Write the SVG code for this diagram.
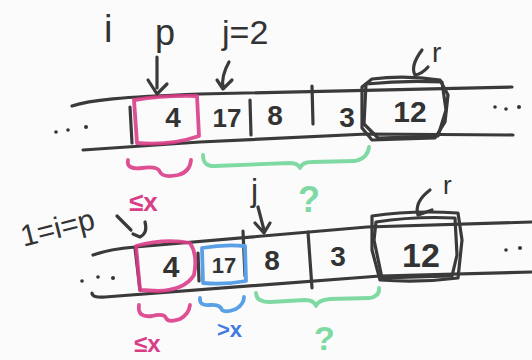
<svg xmlns="http://www.w3.org/2000/svg" width="532" height="360" viewBox="0 0 532 360">
<style>
.ink{fill:none;stroke:#3a3a3a;stroke-width:3.2;stroke-linecap:round;stroke-linejoin:round}
.pink{fill:none;stroke:#d93d88;stroke-width:3.8;stroke-linecap:round;stroke-linejoin:round;opacity:.9}
.green{fill:none;stroke:#7fd9a3;stroke-width:3.8;stroke-linecap:round;stroke-linejoin:round}
.blue{fill:none;stroke:#5aa0e6;stroke-width:3.8;stroke-linecap:round;stroke-linejoin:round}
text{font-family:"Liberation Sans","DejaVu Sans",sans-serif}
.t{fill:#333}
.d{fill:#333;font-weight:bold;text-anchor:middle}
.tp{fill:#d93d88}
.tg{fill:#7fd9a3}
.tb{fill:#3f7be0}
</style>
<rect width="532" height="360" fill="#fbfbfb"/>

<!-- ===== Row 1 ===== -->
<g id="row1-array">
  <path class="ink" d="M72,106 C90,100 120,97 200,94 L512,87"/>
  <path class="ink" d="M83,150 L200,142 L367,134 L513,135"/>
  <path class="ink" d="M130,107 L132,143"/>
  <path class="ink" d="M250,100 L251,135"/>
  <path class="ink" d="M312,86 L313,124"/>
  <g class="t"><circle cx="56" cy="132" r="1.8"/><circle cx="68" cy="130" r="1.8"/><circle cx="86" cy="127" r="2"/></g>
  <g class="t"><circle cx="495" cy="107" r="1.8"/><circle cx="506" cy="109" r="1.8"/><circle cx="519" cy="107" r="2"/></g>
</g>
<g id="row1-cell-4">
  <path class="pink" d="M134,100 Q165,95 197,96 L199,136 Q170,146 137,143 Z"/>
  <text class="d" x="173" y="127" font-size="28">4</text>
</g>
<g id="row1-cell-17"><text class="d" x="227" y="127" font-size="26">17</text></g>
<g id="row1-cell-8"><text class="d" x="275" y="125" font-size="28">8</text></g>
<g id="row1-cell-3"><text class="d" x="347" y="127" font-size="28">3</text></g>
<g id="row1-cell-12">
  <path class="ink" d="M362,87 L372,79 Q405,75 440,80 L448,95 L445,122 L435,138 L372,140 L362,128 Z"/>
  <path class="ink" d="M366,84 Q405,80 442,82 L446,110 L438,136 L378,138 L364,124 Z" stroke-width="2.4"/>
  <text class="d" x="410" y="122" font-size="30">12</text>
</g>
<g id="row1-labels">
  <text class="t" x="104" y="42" font-size="38">i</text>
  <text class="t" x="155" y="45" font-size="36">p</text>
  <text class="t" x="222" y="44" font-size="34">j=2</text>
  <text class="t" x="432" y="62" font-size="28">r</text>
</g>
<g id="connectors">
  <path class="ink" d="M157,57 L157,88 M148,80 L157,94 L167,84"/>
  <path class="ink" d="M229,62 Q221,76 223,88 M217,80 L223,89 L232,80"/>
  <path class="ink" d="M422,50 Q410,66 415,75 M415,75 Q422,74 428,67"/>
  <path class="ink" d="M117,216 L131,230 M145,222 Q148,233 140,237 L133,234"/>
  <path class="ink" d="M258,207 L264,230 M255,223 L264,233 L270,223"/>
  <path class="ink" d="M430,190 Q414,202 418,215 M418,215 L432,210"/>
</g>
<g id="row1-braces">
  <path class="pink" d="M128,160 Q126,170 142,168 Q158,166 160,172 Q163,178 178,175 Q190,172 191,160"/>
  <path class="green" d="M203,155 Q203,167 215,166 L290,163 Q298,163 300,168 Q302,162 312,162 L355,161 Q368,158 369,147"/>
  <text class="tp" x="129" y="211" font-size="26" font-weight="bold">≤x</text>
  <text class="tg" x="298" y="212" font-size="36" font-weight="bold">?</text>
</g>

<!-- ===== Row 2 ===== -->
<g id="row2-array">
  <path class="ink" d="M93,255 Q110,249 135,247 L367,227 L532,222"/>
  <path class="ink" d="M92,293 Q92,298 105,297 L380,276 L532,272"/>
  <path class="ink" d="M135,248 L140,290"/>
  <path class="ink" d="M198,253 L199,281"/>
  <path class="ink" d="M243,231 L245,276"/>
  <path class="ink" d="M308,232 L312,288"/>
  <g class="t"><circle cx="82" cy="281" r="1.8"/><circle cx="98" cy="277" r="1.8"/><circle cx="113" cy="278" r="2"/></g>
  <g class="t"><circle cx="506" cy="250" r="1.8"/><circle cx="520" cy="248" r="2"/></g>
</g>
<g id="row2-cell-4">
  <path class="pink" d="M136,246 Q165,238 190,243 Q198,255 194,275 Q185,290 158,291 L140,290 Z"/>
  <text class="d" x="171" y="277" font-size="30">4</text>
</g>
<g id="row2-cell-17">
  <path class="blue" d="M202,248 Q224,244 245,246 L246,281 Q224,285 203,283 Z"/>
  <text class="d" x="224" y="273" font-size="22">17</text>
</g>
<g id="row2-cell-8"><text class="d" x="272" y="270" font-size="28">8</text></g>
<g id="row2-cell-3"><text class="d" x="338" y="266" font-size="28">3</text></g>
<g id="row2-cell-12">
  <path class="ink" d="M372,216 Q412,210 458,213 L462,240 L458,278 Q420,283 380,280 L372,250 Z"/>
  <path class="ink" d="M376,222 Q415,216 455,218 L457,255 L452,276 L382,278 L374,240 Z" stroke-width="2.4"/>
  <text class="d" x="421" y="267" font-size="34">12</text>
</g>
<g id="row2-labels">
  <text class="t" x="57" y="238" font-size="30" text-anchor="middle" transform="rotate(-14 57 226)">1=i=p</text>
  <text class="t" x="251" y="201" font-size="32">j</text>
  <text class="t" x="443" y="194" font-size="26">r</text>
</g>
<g id="row2-braces">
  <path class="pink" d="M139,305 Q137,318 152,316 Q164,313 166,318 Q168,323 180,319 Q189,314 190,305"/>
  <path class="blue" d="M200,298 Q199,306 210,305 Q220,304 222,310 Q226,313 236,309 Q244,304 244,297"/>
  <path class="green" d="M256,293 Q256,302 270,302 L305,300 Q314,300 316,306 Q318,300 330,299 L370,298 Q380,296 379,288"/>
  <text class="tb" x="217" y="337" font-size="22" font-weight="bold">&gt;x</text>
  <text class="tg" x="314" y="350" font-size="34" font-weight="bold">?</text>
  <text class="tp" x="134" y="352" font-size="24" font-weight="bold">≤x</text>
</g>
</svg>
